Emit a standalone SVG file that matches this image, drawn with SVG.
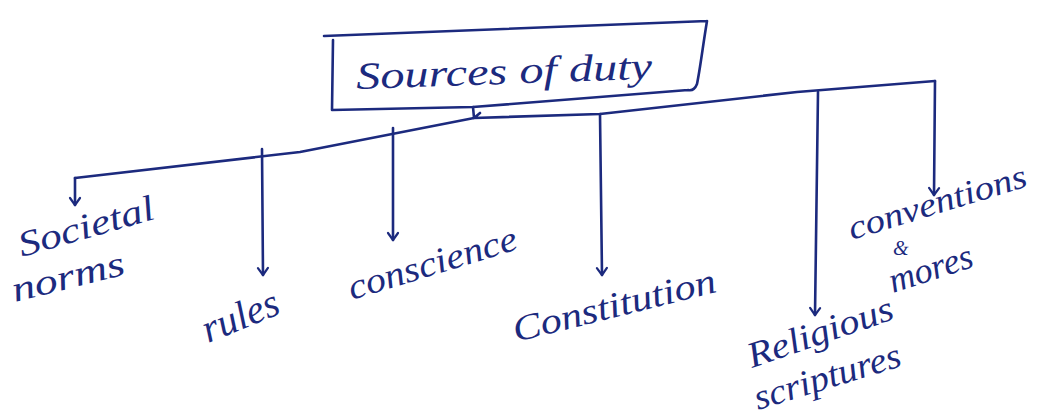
<svg xmlns="http://www.w3.org/2000/svg" width="1043" height="418" viewBox="0 0 1043 418">
<defs>
<style>
.ink{fill:none;stroke:#1c2a7e;stroke-width:2.6;stroke-linecap:round;stroke-linejoin:round}
.lbl{font-family:"Liberation Serif","DejaVu Serif",serif;font-style:italic;fill:#1c2a7e}
</style>
<marker id="arr" viewBox="-10 -7 12 14" refX="0" refY="0" markerWidth="12" markerHeight="14" markerUnits="userSpaceOnUse" orient="auto">
<path d="M-7,-5 L0,0 L-7,5" fill="none" stroke="#1c2a7e" stroke-width="2.2" stroke-linecap="round" stroke-linejoin="round"/>
</marker>
</defs>
<rect width="1043" height="418" fill="#ffffff"/>
<g id="root">
<path class="ink" d="M324,36 L707,21 M333,40 L332,110 L473,107 L688,90 M707,21 C703,45 700,70 697,84 C695,89 692,91 688,90"/>
<text class="lbl" x="356" y="84" font-size="38" textLength="296" lengthAdjust="spacingAndGlyphs" transform="rotate(-2 500 70)">Sources of duty</text>
</g>
<g id="connectors">
<path class="ink" d="M473,107 L474,118 M75,178 L300,152 L474,118 L600,114 L797,92 L935,81 M474,118 L480,113"/>
<path class="ink" marker-end="url(#arr)" d="M75,178 L75,205"/>
<path class="ink" marker-end="url(#arr)" d="M262,149 L263,275"/>
<path class="ink" marker-end="url(#arr)" d="M393,128 L393,240"/>
<path class="ink" marker-end="url(#arr)" d="M600,114 L602,275"/>
<path class="ink" marker-end="url(#arr)" d="M818,92 L815,315"/>
<path class="ink" marker-end="url(#arr)" d="M935,81 L934,195"/>
</g>
<g id="societal-norms">
<text class="lbl" x="22" y="257" font-size="36" textLength="140" lengthAdjust="spacingAndGlyphs" transform="rotate(-16 22 257)">Societal</text>
<text class="lbl" x="15" y="302" font-size="36" textLength="115" lengthAdjust="spacingAndGlyphs" transform="rotate(-14 15 302)">norms</text>
</g>
<g id="rules">
<text class="lbl" x="208" y="343" font-size="40" transform="rotate(-22 208 343)">rules</text>
</g>
<g id="conscience">
<text class="lbl" x="352" y="300" font-size="36" textLength="175" lengthAdjust="spacingAndGlyphs" transform="rotate(-17 352 300)">conscience</text>
</g>
<g id="constitution">
<text class="lbl" x="516" y="342" font-size="36" textLength="208" lengthAdjust="spacingAndGlyphs" transform="rotate(-14 516 342)">Constitution</text>
</g>
<g id="religious-scriptures">
<text class="lbl" x="752" y="368" font-size="36" textLength="152" lengthAdjust="spacingAndGlyphs" transform="rotate(-19 752 368)">Religious</text>
<text class="lbl" x="758" y="410" font-size="36" textLength="152" lengthAdjust="spacingAndGlyphs" transform="rotate(-17 758 410)">scriptures</text>
</g>
<g id="conventions-mores">
<text class="lbl" x="852" y="240" font-size="34" textLength="185" lengthAdjust="spacingAndGlyphs" transform="rotate(-17 852 240)">conventions</text>
<text class="lbl" x="893" y="255" font-size="20">&amp;</text>
<text class="lbl" x="893" y="293" font-size="36" transform="rotate(-18 893 293)">mores</text>
</g>
</svg>
